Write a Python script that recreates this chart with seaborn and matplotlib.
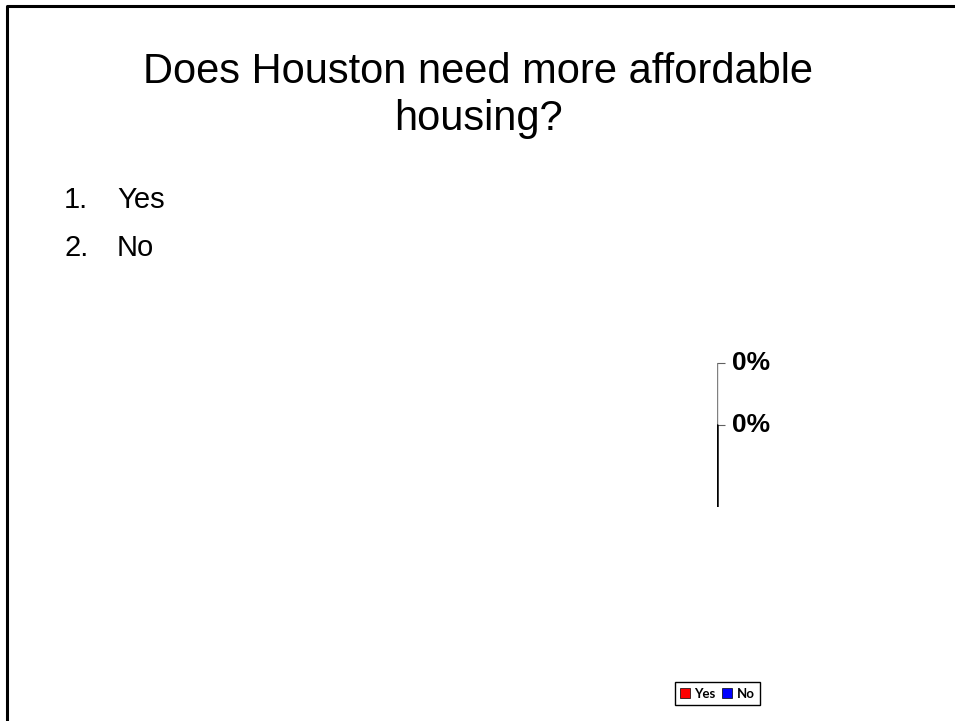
import matplotlib
matplotlib.use('Agg')
import matplotlib.pyplot as plt
import seaborn as sns
import pandas as pd
from matplotlib.lines import Line2D
from matplotlib.patches import Patch

# poll data
answers = ['Yes', 'No']
shares = [0, 0]
colors = ['#ff0000', '#0000ff']

sns.set_style('white')
plt.rcParams['font.family'] = ['Liberation Sans', 'DejaVu Sans']
plt.rcParams['text.color'] = 'black'

df = pd.DataFrame({'answer': answers, 'share': shares})

W, H = 955, 721
fig = plt.figure(figsize=(W / 100, H / 100), dpi=100)

# slide frame (top and left edges)
fig.add_artist(Line2D([7 / W, 7 / W, 1], [0, 1 - 5.5 / H, 1 - 5.5 / H],
                      transform=fig.transFigure, color='black', lw=2.2))

fig.text(478 / W, 1 - 83 / H, 'Does Houston need more affordable', ha='center', va='baseline', fontsize=30)
fig.text(478 / W, 1 - 130 / H, 'housing?', ha='center', va='baseline', fontsize=30)

for i, a in enumerate(answers):
    y = 1 - (208 + i * 48) / H
    fig.text(64 / W, y, f'{i + 1}.', ha='left', va='baseline', fontsize=21)
    fig.text(117 / W, y, a, ha='left', va='baseline', fontsize=21)

ax = fig.add_axes([717 / W, 1 - 507 / H, 60 / W, 144 / H])
sns.barplot(data=df, x='share', y='answer', hue='answer', palette=colors,
            orient='h', legend=False, ax=ax, width=0.6)
ax.set_xlim(0, 1)
ax.set_ylim(-0.5 + 144 / 62, -0.5)
for s in ['top', 'right', 'bottom', 'left']:
    ax.spines[s].set_visible(False)
split = (507 - 425) / 144
ax.axvline(0, ymin=split, ymax=1, color='#808080', lw=1.0)
ax.axvline(0, ymin=0, ymax=split, color='black', lw=1.8)
ax.set_xticks([])
ax.set_yticks([-0.5, 0.5])
ax.set_yticklabels([])
ax.tick_params(axis='y', direction='in', length=6, width=0.8, left=True, color='#606060')
ax.set_xlabel('')
ax.set_ylabel('')
for i, v in enumerate(shares):
    ax.text(0.25, i - 0.5, f'{v:.0%}', ha='left', va='center',
            fontsize=19, fontweight='bold')

handles = [Patch(facecolor=c, edgecolor='black', linewidth=0.5, label=a)
           for a, c in zip(answers, colors)]
fig.legend(handles=handles, loc='center', bbox_to_anchor=(717.5 / W, 1 - 693.5 / H),
           ncol=2, frameon=True, fancybox=False, edgecolor='black',
           prop={'weight': 'bold', 'size': 9.5, 'family': 'Lato'},
           handlelength=0.75, handleheight=0.85, handletextpad=0.35, columnspacing=0.5,
           borderpad=0.4, borderaxespad=0, framealpha=1)

fig.savefig('out.png', dpi=100)
